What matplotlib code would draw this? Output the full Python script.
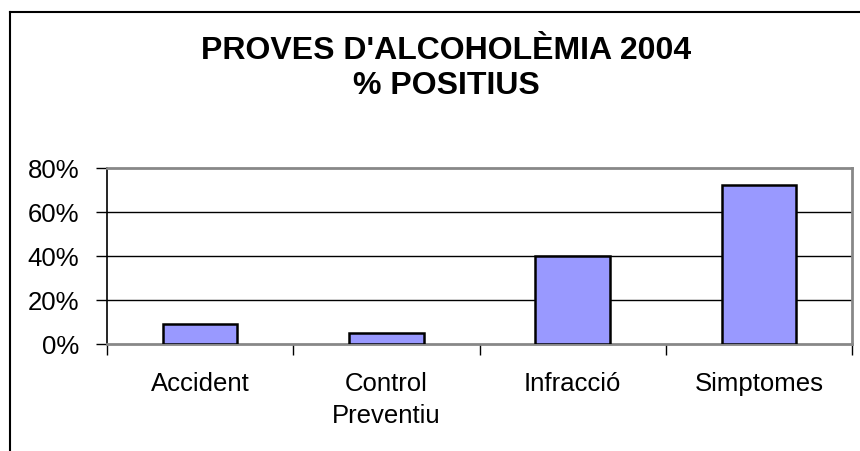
import matplotlib.pyplot as plt
from matplotlib.ticker import PercentFormatter

plt.rcParams['font.family'] = ['Liberation Sans', 'DejaVu Sans']

# dades
categories = ['Accident', 'Control\nPreventiu', 'Infracció', 'Simptomes']
positius = [0.09, 0.046, 0.396, 0.72]
yticks = [0.0, 0.2, 0.4, 0.6, 0.8]

fig = plt.figure(figsize=(8.6, 4.52), dpi=100)

# vora del gràfic (només es veuen els costats esquerre i superior)
frame = fig.add_axes([9.5 / 860, -0.2, 1.0, 1.2 - 12.5 / 452])
frame.set_xticks([])
frame.set_yticks([])
for s in frame.spines.values():
    s.set_color('black')
    s.set_linewidth(1.5)

ax = fig.add_axes([107 / 860, 1 - 344.5 / 452, 745 / 860, 176 / 452])

x = range(len(categories))
ax.bar(x, positius, width=0.40, color='#9999FF', edgecolor='black', linewidth=1.8, zorder=3)

ax.set_xlim(-0.5, len(categories) - 0.5)
ax.set_ylim(0, 0.8)
ax.set_yticks(yticks)
ax.yaxis.set_major_formatter(PercentFormatter(1.0, decimals=0))
ax.set_xticks([i - 0.5 for i in range(len(categories) + 1)])
ax.set_xticklabels([])
ax.set_xticks(list(x), minor=True)
ax.set_xticklabels(categories, minor=True, fontsize=18.5, linespacing=1.4)
ax.tick_params(axis='x', which='minor', length=0, pad=20)
ax.tick_params(axis='x', which='major', length=8, width=1, direction='out', color='black')
ax.tick_params(axis='y', length=8, width=1, direction='out', labelsize=18.5, pad=12)

for y in yticks[1:-1]:
    ax.axhline(y, color='black', linewidth=1.0, zorder=1)

for s in ['top', 'right', 'bottom']:
    ax.spines[s].set_color('#888888')
    ax.spines[s].set_linewidth(2)
ax.spines['left'].set_color('black')
ax.spines['left'].set_linewidth(1.2)

fig.text(446 / 860, 1 - 68.5 / 452, "PROVES D'ALCOHOLÈMIA 2004\n% POSITIUS",
         ha='center', va='center', fontsize=23, fontweight='bold', linespacing=1.2)

fig.savefig('out.png', dpi=100)
